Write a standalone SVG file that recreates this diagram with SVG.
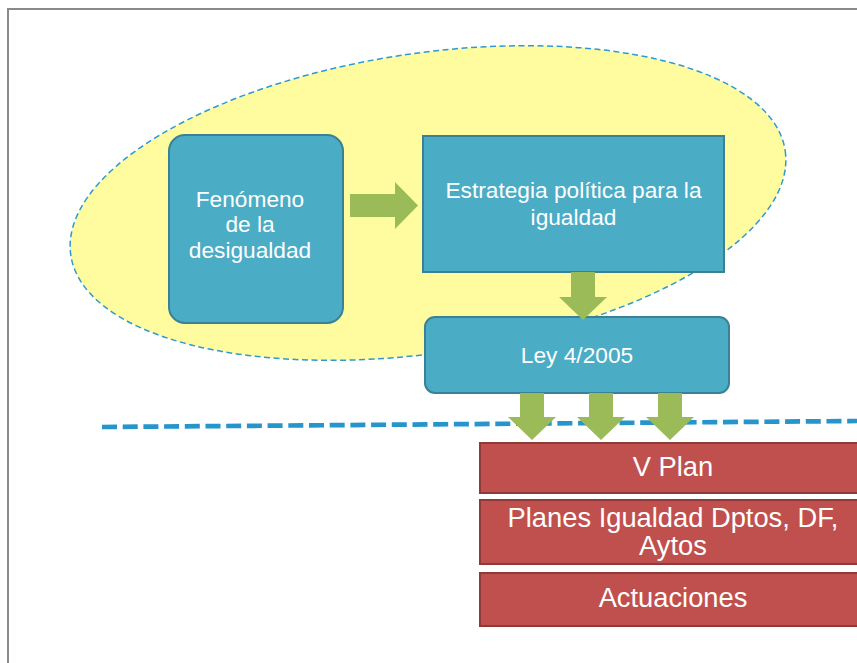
<svg xmlns="http://www.w3.org/2000/svg" width="857" height="663" viewBox="0 0 857 663">
<style>
.blue{fill:#4BACC6;stroke:#3A8196;stroke-width:2}
.red{fill:#C0504D;stroke:#8E3A38;stroke-width:2}
.arrow{fill:#9BBB59}
.t{font-family:"Liberation Sans",Arial,sans-serif;fill:#FFFFFF;text-anchor:middle}
.tb{font-size:22.7px}
.tr{font-size:27.3px}
</style>
<rect width="857" height="663" fill="#FFFFFF"/>
<rect x="8" y="9" width="870" height="680" fill="none" stroke="#8A8A8A" stroke-width="2"/>
<g id="scope">
<ellipse cx="428" cy="203" rx="361" ry="150" transform="rotate(-8.3 428 203)" fill="#FEFC9F" stroke="#2D9AD2" stroke-width="1.5" stroke-dasharray="6 3.5"/>
</g>
<line id="separator" x1="102" y1="427" x2="857" y2="421" stroke="#2595CB" stroke-width="4.7" stroke-dasharray="15 5.7"/>
<g id="fenomeno">
<rect class="blue" x="169" y="135" width="174" height="188" rx="16"/>
<text class="t tb" x="250" y="207">Fenómeno</text>
<text class="t tb" x="250" y="232.2">de la</text>
<text class="t tb" x="250" y="257.6">desigualdad</text>
</g>
<g id="estrategia">
<rect class="blue" x="423" y="136" width="301" height="136"/>
<text class="t tb" x="573.5" y="198">Estrategia política para la</text>
<text class="t tb" x="573.5" y="225">igualdad</text>
</g>
<g id="ley">
<rect class="blue" x="425" y="317" width="304" height="76" rx="10"/>
<text class="t tb" x="577" y="363">Ley 4/2005</text>
</g>
<g id="vplan">
<rect class="red" x="480" y="443" width="390" height="50"/>
<text class="t tr" x="673" y="476">V Plan</text>
</g>
<g id="planes">
<rect class="red" x="480" y="500" width="390" height="64"/>
<text class="t tr" x="673" y="527">Planes Igualdad Dptos, DF,</text>
<text class="t tr" x="673" y="555">Aytos</text>
</g>
<g id="actuaciones">
<rect class="red" x="480" y="573" width="390" height="53"/>
<text class="t tr" x="673" y="607">Actuaciones</text>
</g>
<g id="connectors">
<polygon class="arrow" points="350,194 395,194 395,182 418,205.5 395,229 395,217 350,217"/>
<polygon class="arrow" points="571,272 595,272 595,297 607,297 583,320 559,297 571,297"/>
<polygon class="arrow" points="520,393 544,393 544,417 556,417 532,440 508,417 520,417"/>
<polygon class="arrow" points="589,393 613,393 613,417 625,417 601,440 577,417 589,417"/>
<polygon class="arrow" points="658,393 682,393 682,417 694,417 670,440 646,417 658,417"/>
</g>
</svg>
